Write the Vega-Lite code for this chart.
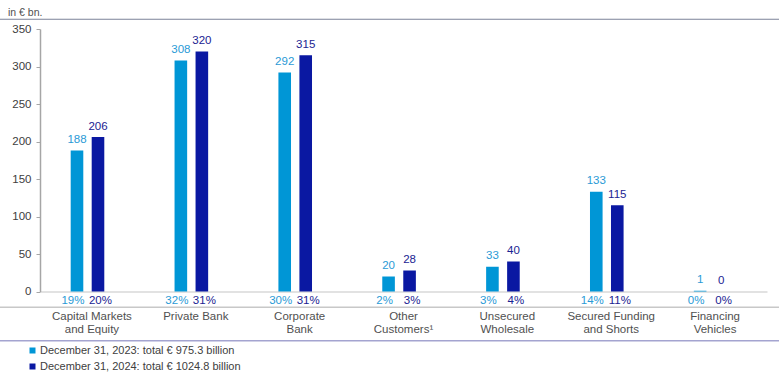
{
  "$schema": "https://vega.github.io/schema/vega-lite/v6.json",
  "width": 779,
  "height": 262.5,
  "autosize": {"type": "none"},
  "padding": {"top": 29, "left": 0, "right": 0, "bottom": 89.5},
  "background": "white",
  "config": {
    "font": "Liberation Sans",
    "view": {"stroke": null},
    "axisY": {
      "title": null,
      "offset": -40,
      "grid": false,
      "domainColor": "#a6a6a6",
      "domainWidth": 1.5,
      "tickColor": "#a6a6a6",
      "tickSize": 4,
      "labelPadding": 5,
      "labelFontSize": 11.5,
      "labelColor": "#404040"
    }
  },
  "title": {
    "text": "in € bn.",
    "anchor": "start",
    "frame": "group",
    "fontSize": 10.5,
    "fontWeight": "normal",
    "color": "#505050",
    "dx": 8,
    "offset": 0.5
  },
  "data": {
    "values": [
      {"cat": "Capital Markets|and Equity", "series": "December 31, 2023: total € 975.3 billion", "value": 188, "pct": "19%"},
      {"cat": "Capital Markets|and Equity", "series": "December 31, 2024: total € 1024.8 billion", "value": 206, "pct": "20%"},
      {"cat": "Private Bank", "series": "December 31, 2023: total € 975.3 billion", "value": 308, "pct": "32%"},
      {"cat": "Private Bank", "series": "December 31, 2024: total € 1024.8 billion", "value": 320, "pct": "31%"},
      {"cat": "Corporate|Bank", "series": "December 31, 2023: total € 975.3 billion", "value": 292, "pct": "30%"},
      {"cat": "Corporate|Bank", "series": "December 31, 2024: total € 1024.8 billion", "value": 315, "pct": "31%"},
      {"cat": "Other|Customers¹", "series": "December 31, 2023: total € 975.3 billion", "value": 20, "pct": "2%"},
      {"cat": "Other|Customers¹", "series": "December 31, 2024: total € 1024.8 billion", "value": 28, "pct": "3%"},
      {"cat": "Unsecured|Wholesale", "series": "December 31, 2023: total € 975.3 billion", "value": 33, "pct": "3%"},
      {"cat": "Unsecured|Wholesale", "series": "December 31, 2024: total € 1024.8 billion", "value": 40, "pct": "4%"},
      {"cat": "Secured Funding|and Shorts", "series": "December 31, 2023: total € 975.3 billion", "value": 133, "pct": "14%"},
      {"cat": "Secured Funding|and Shorts", "series": "December 31, 2024: total € 1024.8 billion", "value": 115, "pct": "11%"},
      {"cat": "Financing|Vehicles", "series": "December 31, 2023: total € 975.3 billion", "value": 1, "pct": "0%"},
      {"cat": "Financing|Vehicles", "series": "December 31, 2024: total € 1024.8 billion", "value": 0, "pct": "0%"}
    ]
  },
  "encoding": {
    "x": {
      "field": "cat",
      "type": "nominal",
      "sort": null,
      "scale": {"range": [40, 767], "paddingInner": 0.4743, "paddingOuter": 0.2371},
      "axis": {
        "title": null,
        "labelAngle": 0,
        "ticks": false,
        "domain": true,
        "domainColor": "#d9d9d9",
        "domainWidth": 1.5,
        "labelPadding": 19,
        "labelBaseline": "top",
        "labelFontSize": 11.5,
        "labelColor": "#505050",
        "labelLineHeight": 13,
        "labelExpr": "split(datum.label, '|')"
      }
    },
    "xOffset": {
      "field": "series",
      "type": "nominal",
      "scale": {"paddingInner": 0.4, "paddingOuter": 0.5, "align": 0.289}
    }
  },
  "layer": [
    {
      "mark": {"type": "bar"},
      "encoding": {
        "y": {
          "field": "value",
          "type": "quantitative",
          "scale": {"domain": [0, 350], "nice": false},
          "axis": {"title": null, "values": [0, 50, 100, 150, 200, 250, 300, 350]}
        },
        "color": {
          "field": "series",
          "type": "nominal",
          "scale": {"range": ["#0096d6", "#0a18a2"]},
          "legend": {
            "title": null,
            "orient": "none",
            "legendX": 27,
            "legendY": 316,
            "symbolType": "square",
            "symbolSize": 36,
            "labelFontSize": 11,
            "labelColor": "#404040",
            "labelOffset": 2,
            "labelLimit": 400,
            "rowPadding": 4
          }
        }
      }
    },
    {
      "mark": {"type": "text", "baseline": "alphabetic", "dy": -7.5, "fontSize": 11.5},
      "encoding": {
        "y": {"field": "value", "type": "quantitative", "axis": {"title": null, "values": [0, 50, 100, 150, 200, 250, 300, 350]}},
        "text": {"field": "value", "type": "quantitative"},
        "color": {
          "condition": {"test": "indexof(datum.series, '2023') >= 0", "value": "#2a9ad6"},
          "value": "#1a2392"
        }
      }
    },
    {
      "transform": [{"filter": "indexof(datum.series, '2023') >= 0"}],
      "mark": {"type": "text", "baseline": "alphabetic", "dy": 12, "dx": -4, "fontSize": 11.5, "color": "#2a9ad6"},
      "encoding": {
        "y": {"datum": 0, "type": "quantitative", "axis": {"title": null, "values": [0, 50, 100, 150, 200, 250, 300, 350]}},
        "text": {"field": "pct", "type": "nominal"}
      }
    },
    {
      "transform": [{"filter": "indexof(datum.series, '2024') >= 0"}],
      "mark": {"type": "text", "baseline": "alphabetic", "dy": 12, "dx": 2.5, "fontSize": 11.5, "color": "#1a2392"},
      "encoding": {
        "y": {"datum": 0, "type": "quantitative", "axis": {"title": null, "values": [0, 50, 100, 150, 200, 250, 300, 350]}},
        "text": {"field": "pct", "type": "nominal"}
      }
    },
    {
      "data": {"values": [{"level": 363}]},
      "mark": {"type": "rule", "color": "#7b8299", "strokeWidth": 1.2},
      "encoding": {"y": {"field": "level", "type": "quantitative", "axis": {"title": null, "values": [0, 50, 100, 150, 200, 250, 300, 350]}}, "x": null, "xOffset": null}
    },
    {
      "data": {"values": [{"level": -21.1}]},
      "mark": {"type": "rule", "color": "#c8c8c8", "strokeWidth": 1.5},
      "encoding": {"y": {"field": "level", "type": "quantitative", "axis": {"title": null, "values": [0, 50, 100, 150, 200, 250, 300, 350]}}, "x": null, "xOffset": null}
    },
    {
      "data": {"values": [{"level": -65.6}]},
      "mark": {"type": "rule", "color": "#a4a4d0", "strokeWidth": 1.5},
      "encoding": {"y": {"field": "level", "type": "quantitative", "axis": {"title": null, "values": [0, 50, 100, 150, 200, 250, 300, 350]}}, "x": null, "xOffset": null}
    }
  ]
}
